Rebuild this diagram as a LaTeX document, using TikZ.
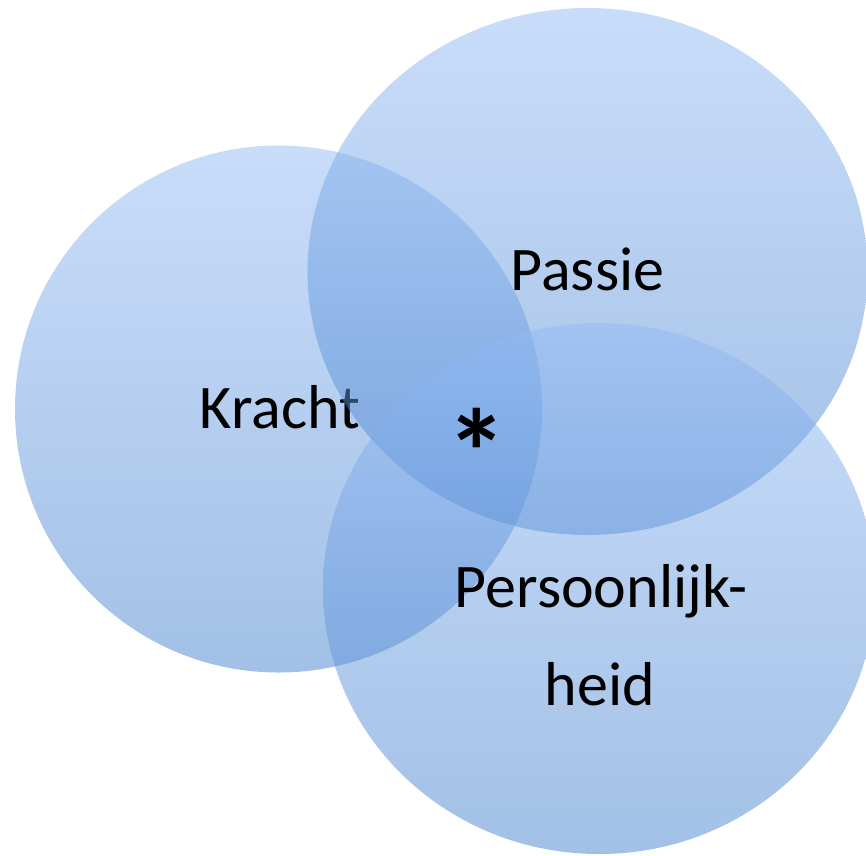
\documentclass[tikz,border=0pt]{standalone}
\usepackage{fontspec}
\setmainfont{Carlito}
\begin{document}
\begin{tikzpicture}[x=1pt,y=-1pt,
  venn/.style={top color=ctop, bottom color=cbot, fill opacity=0.5, draw=none},
  lbl/.style={anchor=base, inner sep=0pt, font=\fontsize{62}{70}\selectfont, text=black}]
\definecolor{ctop}{RGB}{147,187,245}
\definecolor{cbot}{RGB}{70,130,205}
\clip (0,0) rectangle (866,855);
\shade[venn] (278.5,409) ellipse [x radius=263.5, y radius=263.5];
\node[lbl] (kracht) at (280,428) {Kracht};
\shade[venn] (587.5,271.5) ellipse [x radius=280, y radius=263.5];
\node[lbl] (passie) at (587.5,290) {Passie};
\shade[venn] (599,588.5) ellipse [x radius=276, y radius=265.5];
\node[lbl] (pers1) at (601,607) {Persoonlijk-};
\node[lbl] (pers2) at (600,705) {heid};
\node[anchor=base, inner sep=0pt, font=\fontsize{122}{122}\selectfont\bfseries] (star) at (477,495) {*};
\end{tikzpicture}
\end{document}
